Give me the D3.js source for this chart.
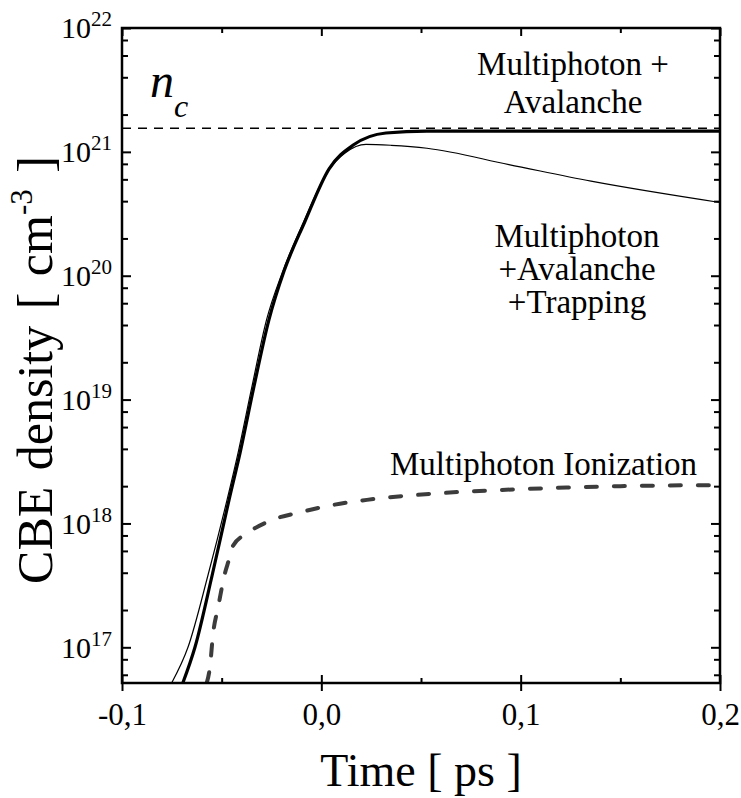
<!DOCTYPE html>
<html>
<head>
<meta charset="utf-8">
<script src="https://cdn.jsdelivr.net/npm/d3@7"></script>
<style>
  body { margin: 0; background: #fff; }
  svg text { font-family: "Liberation Serif", "Times New Roman", serif; fill: #000; }
</style>
</head>
<body>
<div id="chart"></div>
<script>
// time axis (ps)
var xTickValues = [-0.1, 0.0, 0.1, 0.2];
var xTickLabels = ["-0,1", "0,0", "0,1", "0,2"];
var xMinorTicks = [-0.05, 0.05, 0.15];
// density axis (cm^-3)
var yTickValues = [1e17, 1e18, 1e19, 1e20, 1e21, 1e22];
var yMinorTicks = [6e16, 8e16];
[17, 18, 19, 20, 21].forEach(function(k){ [2,4,6,8].forEach(function(m){ yMinorTicks.push(m*Math.pow(10,k)); }); });

// critical density
var nCritical = 1.55e21;

// Multiphoton + Avalanche (thick)
var timeMPA = [-0.0695, -0.0634, -0.0548, -0.0463, -0.0408, -0.0340, -0.0263, -0.0187, -0.0084, 0.0039, 0.0162, 0.0324, 0.053, 0.1, 0.2];
var densMPA = [5.15e16, 1.0e17, 3.8e17, 1.55e18, 3.7e18, 1.23e19, 4.4e19, 1.09e20, 2.7e20, 7.3e20, 1.14e21, 1.42e21, 1.47e21, 1.47e21, 1.47e21];

// Multiphoton + Avalanche + Trapping (thin)
var timeMPAT = [-0.0751, -0.0669, -0.0569, -0.0473, -0.0418, -0.0350, -0.0275, -0.0197, -0.0092, 0.0038, 0.0119, 0.0224, 0.035, 0.053, 0.0941, 0.1353, 0.2];
var densMPAT = [5.15e16, 1.0e17, 3.8e17, 1.55e18, 3.7e18, 1.23e19, 4.4e19, 1.05e20, 2.65e20, 7.2e20, 9.8e20, 1.15e21, 1.13e21, 1.07e21, 7.9e20, 5.8e20, 3.9e20];

// Multiphoton Ionization (dashed)
var timeMPI = [-0.0575, -0.0559, -0.0543, -0.0518, -0.0483, -0.0465, -0.0443, -0.0373, -0.0258, -0.0107, 0.0058, 0.0229, 0.056, 0.0896, 0.123, 0.15, 0.2];
var densMPI = [5.15e16, 6.9e16, 1.29e17, 2.1e17, 4.0e17, 5.0e17, 6.6e17, 8.3e17, 1.05e18, 1.23e18, 1.41e18, 1.55e18, 1.74e18, 1.86e18, 1.95e18, 2.0e18, 2.04e18];

var W = 741, H = 798;
var pL = 122, pR = 720, pT = 28, pB = 683;

var svg = d3.select("#chart").append("svg")
  .attr("width", W).attr("height", H);

var x = d3.scaleLinear().domain([-0.1, 0.2]).range([pL, pR]);
var y = d3.scaleLog().domain([5.15e16, 1e22]).range([pB, pT]);

function zip(t, n){ return t.map(function(d,i){ return {t: d, n: n[i]}; }); }

var line = d3.line()
  .x(function(d){ return x(d.t); })
  .y(function(d){ return y(d.n); })
  .curve(d3.curveMonotoneX);

svg.append("clipPath").attr("id","plotclip")
  .append("rect").attr("x", pL).attr("y", pT).attr("width", pR-pL).attr("height", pB-pT);

var plot = svg.append("g").attr("clip-path","url(#plotclip)");

// n_c line
plot.append("line")
  .attr("x1", pL).attr("x2", pR)
  .attr("y1", y(nCritical)).attr("y2", y(nCritical))
  .attr("stroke", "#000").attr("stroke-width", 1.5)
  .attr("stroke-dasharray", "9,7");

plot.append("path").datum(zip(timeMPI, densMPI))
  .attr("d", line).attr("fill","none")
  .attr("stroke", "#3c3c3c").attr("stroke-width", 4)
  .attr("stroke-linecap","round")
  .attr("stroke-dasharray", "11,17");

plot.append("path").datum(zip(timeMPAT, densMPAT))
  .attr("d", line).attr("fill","none")
  .attr("stroke", "#000").attr("stroke-width", 1.2);

plot.append("path").datum(zip(timeMPA, densMPA))
  .attr("d", line).attr("fill","none")
  .attr("stroke", "#000").attr("stroke-width", 3.2);

// axes
function styleAxis(g){
  g.select(".domain").remove();
  g.selectAll(".tick line").attr("stroke","#000").attr("stroke-width",2);
}

// left
svg.append("g").attr("transform","translate("+pL+",0)")
  .call(d3.axisLeft(y).tickValues(yTickValues).tickSizeInner(-9).tickSizeOuter(0).tickPadding(10))
  .call(styleAxis)
  .call(function(g){
    g.attr("font-family", null).attr("font-size", null);
    g.selectAll(".tick text").each(function(d){
      var t = d3.select(this);
      t.text(null).attr("font-size", 30).attr("dy", "0.33em");
      t.append("tspan").text("10");
      t.append("tspan").attr("dy", -12).attr("font-size", 21).text(Math.round(Math.log10(d)));
    });
  });
svg.append("g").attr("transform","translate("+pL+",0)")
  .call(d3.axisLeft(y).tickValues(yMinorTicks).tickSizeInner(-6).tickSizeOuter(0).tickFormat(""))
  .call(styleAxis);

// right
svg.append("g").attr("transform","translate("+pR+",0)")
  .call(d3.axisRight(y).tickValues(yTickValues).tickSizeInner(-9).tickSizeOuter(0).tickFormat(""))
  .call(styleAxis);
svg.append("g").attr("transform","translate("+pR+",0)")
  .call(d3.axisRight(y).tickValues(yMinorTicks).tickSizeInner(-6).tickSizeOuter(0).tickFormat(""))
  .call(styleAxis);

// bottom (major ticks cross the axis)
svg.append("g").attr("transform","translate(0,"+pB+")")
  .call(d3.axisBottom(x).tickValues(xTickValues).tickSizeInner(8).tickSizeOuter(0).tickPadding(12)
    .tickFormat(function(d,i){ return xTickLabels[i]; }))
  .call(styleAxis)
  .call(function(g){
    g.attr("font-family", null).attr("font-size", null);
    g.selectAll(".tick text").attr("font-size",31);
  });
svg.append("g").attr("transform","translate(0,"+pB+")")
  .call(d3.axisBottom(x).tickValues(xTickValues).tickSizeInner(-8).tickSizeOuter(0).tickFormat(""))
  .call(styleAxis);
svg.append("g").attr("transform","translate(0,"+pB+")")
  .call(d3.axisBottom(x).tickValues(xMinorTicks).tickSizeInner(-5).tickSizeOuter(0).tickFormat(""))
  .call(styleAxis);

// top
svg.append("g").attr("transform","translate(0,"+pT+")")
  .call(d3.axisTop(x).tickValues(xTickValues).tickSizeInner(-8).tickSizeOuter(0).tickFormat(""))
  .call(styleAxis);
svg.append("g").attr("transform","translate(0,"+pT+")")
  .call(d3.axisTop(x).tickValues(xMinorTicks).tickSizeInner(-5).tickSizeOuter(0).tickFormat(""))
  .call(styleAxis);

// frame
svg.append("rect")
  .attr("x", pL).attr("y", pT).attr("width", pR-pL).attr("height", pB-pT)
  .attr("fill","none").attr("stroke","#000").attr("stroke-width",2.5);

// axis titles
svg.append("text")
  .attr("x", (pL+pR)/2).attr("y", 786)
  .attr("text-anchor","middle").attr("font-size",46)
  .text("Time [ ps ]");

var yl = svg.append("text")
  .attr("transform","translate(52,370) rotate(-90)")
  .attr("text-anchor","middle").attr("font-size",50)
  .attr("word-spacing", 4);
yl.append("tspan").text("CBE density [ cm");
yl.append("tspan").attr("dy",-20).attr("font-size",31).text("-3");
yl.append("tspan").attr("dy",20).text(" ]");

// annotations
var nc = svg.append("text").attr("x",150).attr("y",97).attr("font-style","italic");
nc.append("tspan").attr("font-size",48).text("n");
nc.append("tspan").attr("dy",20).attr("font-size",32).text("c");

svg.append("text").attr("x",573).attr("y",75).attr("text-anchor","middle").attr("font-size",33).text("Multiphoton +");
svg.append("text").attr("x",573).attr("y",113).attr("text-anchor","middle").attr("font-size",33).text("Avalanche");

svg.append("text").attr("x",577).attr("y",247).attr("text-anchor","middle").attr("font-size",33).text("Multiphoton");
svg.append("text").attr("x",577).attr("y",280).attr("text-anchor","middle").attr("font-size",33).text("+Avalanche");
svg.append("text").attr("x",577).attr("y",313).attr("text-anchor","middle").attr("font-size",33).text("+Trapping");

svg.append("text").attr("x",390).attr("y",475).attr("font-size",33).text("Multiphoton Ionization");
</script>
</body>
</html>
